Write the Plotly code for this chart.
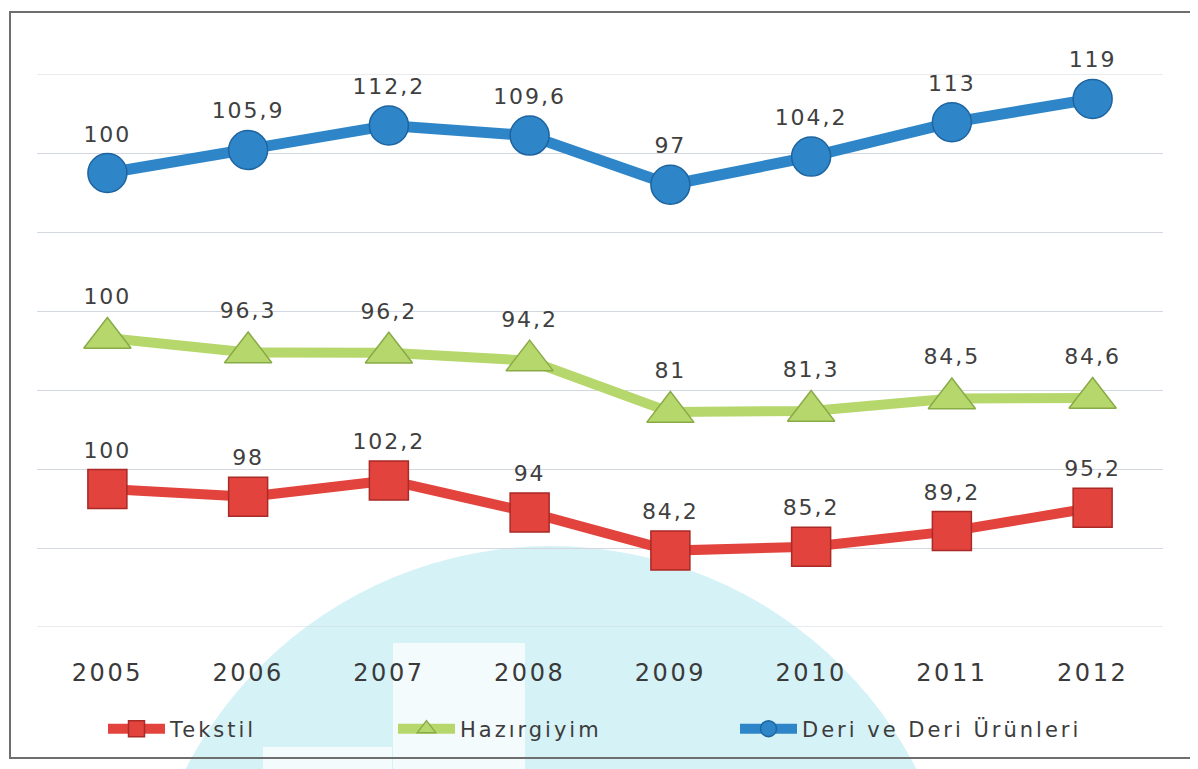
import plotly.graph_objects as go

# ---------------- data ----------------
years = ["2005", "2006", "2007", "2008", "2009", "2010", "2011", "2012"]
tekstil = [100, 98, 102.2, 94, 84.2, 85.2, 89.2, 95.2]
hazirgiyim = [100, 96.3, 96.2, 94.2, 81, 81.3, 84.5, 84.6]
deri = [100, 105.9, 112.2, 109.6, 97, 104.2, 113, 119]
series_names = ["Tekstil", "Hazırgiyim", "Deri ve Deri Ürünleri"]


def fmt(v):
    return f"{v:g}".replace(".", ",")


def spaced(txt, ls):
    return f'<span style="letter-spacing:{ls}px">{txt}</span>'


# ---------------- geometry helpers (layout only) ----------------
OFF = 8  # page body margin
W, H = 1198 - OFF, 769 - OFF
L, T = 37 - OFF, 74 - OFF
R, B = 35, 142
PW = W - L - R
PH = H - T - B


def px(x):
    return (x - OFF - L) / PW


def py(y):
    return (H - B - (y - OFF)) / PH


def yrange(ypix100):
    # axis range so that value 100 sits at screen pixel ypix100, 3.9 px per unit
    lo = 100 - ((H - B) - (ypix100 - OFF)) / 3.9
    return [lo, lo + PH / 3.9]


fig = go.Figure()

# dummy trace on primary y for gridlines
fig.add_trace(go.Scatter(x=years, y=[None] * len(years), showlegend=False,
                         hoverinfo="skip", yaxis="y"))

styles = [
    dict(name=series_names[0], y=tekstil, axis="y2", color="#E2433C", edge="#A92A26",
         symbol="square", size=39, lw=10, legend="legend", tsize=40),
    dict(name=series_names[1], y=hazirgiyim, axis="y3", color="#B6D76B", edge="#89AB47",
         symbol="triangle-up", size=41, lw=10, legend="legend2", tsize=44),
    dict(name=series_names[2], y=deri, axis="y4", color="#2E86C9", edge="#1D64A0",
         symbol="circle", size=39, lw=11, legend="legend3", tsize=40),
]

for s in styles:
    fig.add_trace(go.Scatter(
        x=years, y=s["y"], name=spaced(s["name"], 3), mode="lines+markers", yaxis=s["axis"],
        line=dict(color=s["color"], width=s["lw"]),
        marker=dict(symbol=s["symbol"], size=s["size"], color=s["color"],
                    line=dict(color=s["edge"], width=1.5)),
        legend=s["legend"], hoverinfo="skip",
    ))
    # data labels above the points
    fig.add_trace(go.Scatter(
        x=years, y=s["y"], mode="markers+text", yaxis=s["axis"], showlegend=False,
        marker=dict(size=s["tsize"], color="rgba(0,0,0,0)"),
        text=[spaced(fmt(v), 2) for v in s["y"]], textposition="top center",
        textfont=dict(family="DejaVu Sans", size=22, color="#404040"),
        cliponaxis=False, hoverinfo="skip",
    ))

# watermark-like background shapes, edge gridlines and chart border
shapes = [
    dict(type="circle", xref="paper", yref="paper", layer="below",
         x0=px(551 - 411), x1=px(551 + 411), y0=py(957 - 411), y1=py(957 + 411),
         fillcolor="#D5F2F7", line=dict(width=0)),
    dict(type="rect", xref="paper", yref="paper", layer="below",
         x0=px(393), x1=px(525), y0=py(643), y1=py(790),
         fillcolor="#F3FBFC", line=dict(width=0)),
    dict(type="rect", xref="paper", yref="paper", layer="below",
         x0=px(263), x1=px(392), y0=py(747), y1=py(790),
         fillcolor="#F3FBFC", line=dict(width=0)),
    dict(type="line", xref="paper", yref="y", layer="below", x0=0, x1=1, y0=0, y1=0,
         line=dict(color="#D3D8E0", width=1.2)),
    dict(type="line", xref="paper", yref="y", layer="below", x0=0, x1=1, y0=7, y1=7,
         line=dict(color="#D3D8E0", width=1.2)),
    dict(type="rect", xref="paper", yref="paper",
         x0=px(10), x1=px(1193), y0=py(12), y1=py(758),
         fillcolor="rgba(0,0,0,0)", line=dict(color="#6E6E6E", width=2)),
]

leg_common = dict(orientation="h", yanchor="middle", y=py(729), xanchor="left",
                  bgcolor="rgba(0,0,0,0)",
                  font=dict(family="DejaVu Sans", size=21, color="#3C3C3C"),
                  itemwidth=57)

hidden_axis = dict(overlaying="y", showgrid=False, zeroline=False, showline=False,
                   showticklabels=False, ticks="", fixedrange=True)

fig.update_layout(
    width=W, height=H,
    margin=dict(l=L, r=R, t=T, b=B, autoexpand=False),
    paper_bgcolor="white", plot_bgcolor="rgba(0,0,0,0)",
    xaxis=dict(type="category", range=[-0.5, 7.5], showgrid=False, zeroline=False,
               showline=False, ticks="", ticklabelstandoff=29,
               tickvals=years, ticktext=[spaced(y, 2.5) for y in years],
               tickfont=dict(family="DejaVu Sans", size=24, color="#3A3A3A")),
    yaxis=dict(range=[0, 7], tickvals=list(range(8)), showgrid=True,
               gridcolor="#D3D8E0", gridwidth=1.2,
               zeroline=False, showticklabels=False, ticks="", fixedrange=True),
    yaxis2=dict(hidden_axis, range=yrange(489)),
    yaxis3=dict(hidden_axis, range=yrange(338)),
    yaxis4=dict(hidden_axis, range=yrange(173)),
    legend=dict(leg_common, x=px(103)),
    legend2=dict(leg_common, x=px(393)),
    legend3=dict(leg_common, x=px(735)),
    shapes=shapes,
)

fig.write_html("out.html")
